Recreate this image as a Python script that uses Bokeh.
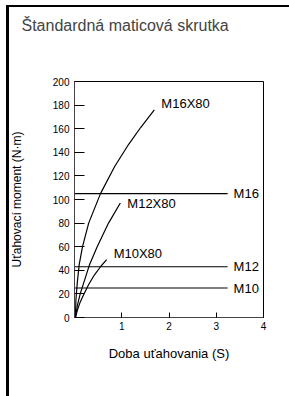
from bokeh.plotting import figure
from bokeh.models import FixedTicker, Range1d, ColumnDataSource
from bokeh.embed import file_html
from bokeh.resources import INLINE
from bokeh.core.properties import value

FONT = "Liberation Sans"

title_text = "Štandardná maticová skrutka"
x_label = "Doba uťahovania (S)"
y_label = "Uťahovací moment (N·m)"

x_ticks = [1, 2, 3, 4]
y_ticks = [0, 20, 40, 60, 80, 100, 120, 140, 160, 180, 200]

# curves (time s, torque N·m)
m16x80_t = [0.02, 0.03, 0.06, 0.10, 0.17, 0.30, 0.55, 0.85, 1.15, 1.40, 1.69]
m16x80_v = [0, 15, 30, 45, 60, 80, 105, 128, 147, 161, 176]
m12x80_t = [0.02, 0.06, 0.12, 0.20, 0.32, 0.48, 0.72, 0.97]
m12x80_v = [0, 10, 20, 30, 45, 60, 80, 97]
m10x80_t = [0.02, 0.06, 0.12, 0.20, 0.30, 0.42, 0.55, 0.68]
m10x80_v = [0, 6, 13, 20, 28, 36, 43, 49]

# horizontal reference levels
level_names = ["M16", "M12", "M10"]
level_values = [105, 43, 25]
level_end = 3.24

curve_names = ["M16X80", "M12X80", "M10X80"]

p = figure(width=289, height=396, output_backend="svg", toolbar_location=None,
           x_range=Range1d(0, 4), y_range=Range1d(0, 200),
           min_border_left=74, min_border_right=26, min_border_top=81, min_border_bottom=79)

p.border_fill_color = None
p.background_fill_color = "white"
p.styles = {
    "background-color": "white",
    "background-image": "linear-gradient(black, black), linear-gradient(black, black)",
    "background-size": "3px 100%, 100% 2px",
    "background-position": "6px 5px, 6px 5px",
    "background-repeat": "no-repeat",
}

# trailing blank lines lift the title towards the top of the page
p.title.text = title_text + "\n\u00a0\n\u00a0\n\u00a0"
p.title.text_font = FONT
p.title.text_font_size = "16px"
p.title.text_font_style = "normal"
p.title.text_line_height = 0.9
p.title.align = "left"
p.title.vertical_align = "top"
p.title.offset = -53
p.title.standoff = 0

p.xgrid.visible = False
p.ygrid.visible = False
p.outline_line_color = "black"
p.outline_line_width = 1

for ax in (p.xaxis[0], p.yaxis[0]):
    ax.axis_line_color = "#444444"
    ax.major_tick_line_color = "black"
    ax.minor_tick_line_color = None
    ax.major_tick_out = 0
    ax.major_label_text_font = FONT
    ax.major_label_text_font_size = "10px"
    ax.major_label_text_color = "black"
    ax.axis_label_text_font = FONT
    ax.axis_label_text_font_style = "normal"
    ax.axis_label_text_color = "black"

p.xaxis.ticker = FixedTicker(ticks=x_ticks)
p.xaxis.major_tick_in = 5
p.xaxis.major_label_standoff = 4
p.xaxis.axis_label = x_label
p.xaxis.axis_label_text_font_size = "13px"
p.xaxis.axis_label_standoff = 13

p.yaxis.ticker = FixedTicker(ticks=y_ticks)
p.yaxis.major_tick_in = 10
p.yaxis.major_label_standoff = 5
p.yaxis.axis_label = y_label
p.yaxis.axis_label_text_font_size = "12px"
p.yaxis.axis_label_standoff = 26

for t, v in ((m16x80_t, m16x80_v), (m12x80_t, m12x80_v), (m10x80_t, m10x80_v)):
    p.line(t, v, line_color="black", line_width=1.2)

for val in level_values:
    p.line([0, level_end], [val, val], line_color="black", line_width=1.2)

lab_src = ColumnDataSource(dict(
    x=[level_end] * 3, y=level_values, text=level_names))
p.text(x="x", y="y", text="text", source=lab_src, x_offset=6, y_offset=0,
       text_font=value(FONT), text_font_size="13px", text_baseline="middle",
       text_align="left", text_color="black")

curve_src = ColumnDataSource(dict(
    x=[m16x80_t[-1], m12x80_t[-1], m10x80_t[-1]],
    y=[m16x80_v[-1], m12x80_v[-1], m10x80_v[-1]],
    text=curve_names, yo=[-6, 0, -6]))
p.text(x="x", y="y", text="text", source=curve_src, x_offset=7, y_offset="yo",
       text_font=value(FONT), text_font_size="13px", text_baseline="middle",
       text_align="left", text_color="black")

open("out.html", "w").write(file_html(p, INLINE))
